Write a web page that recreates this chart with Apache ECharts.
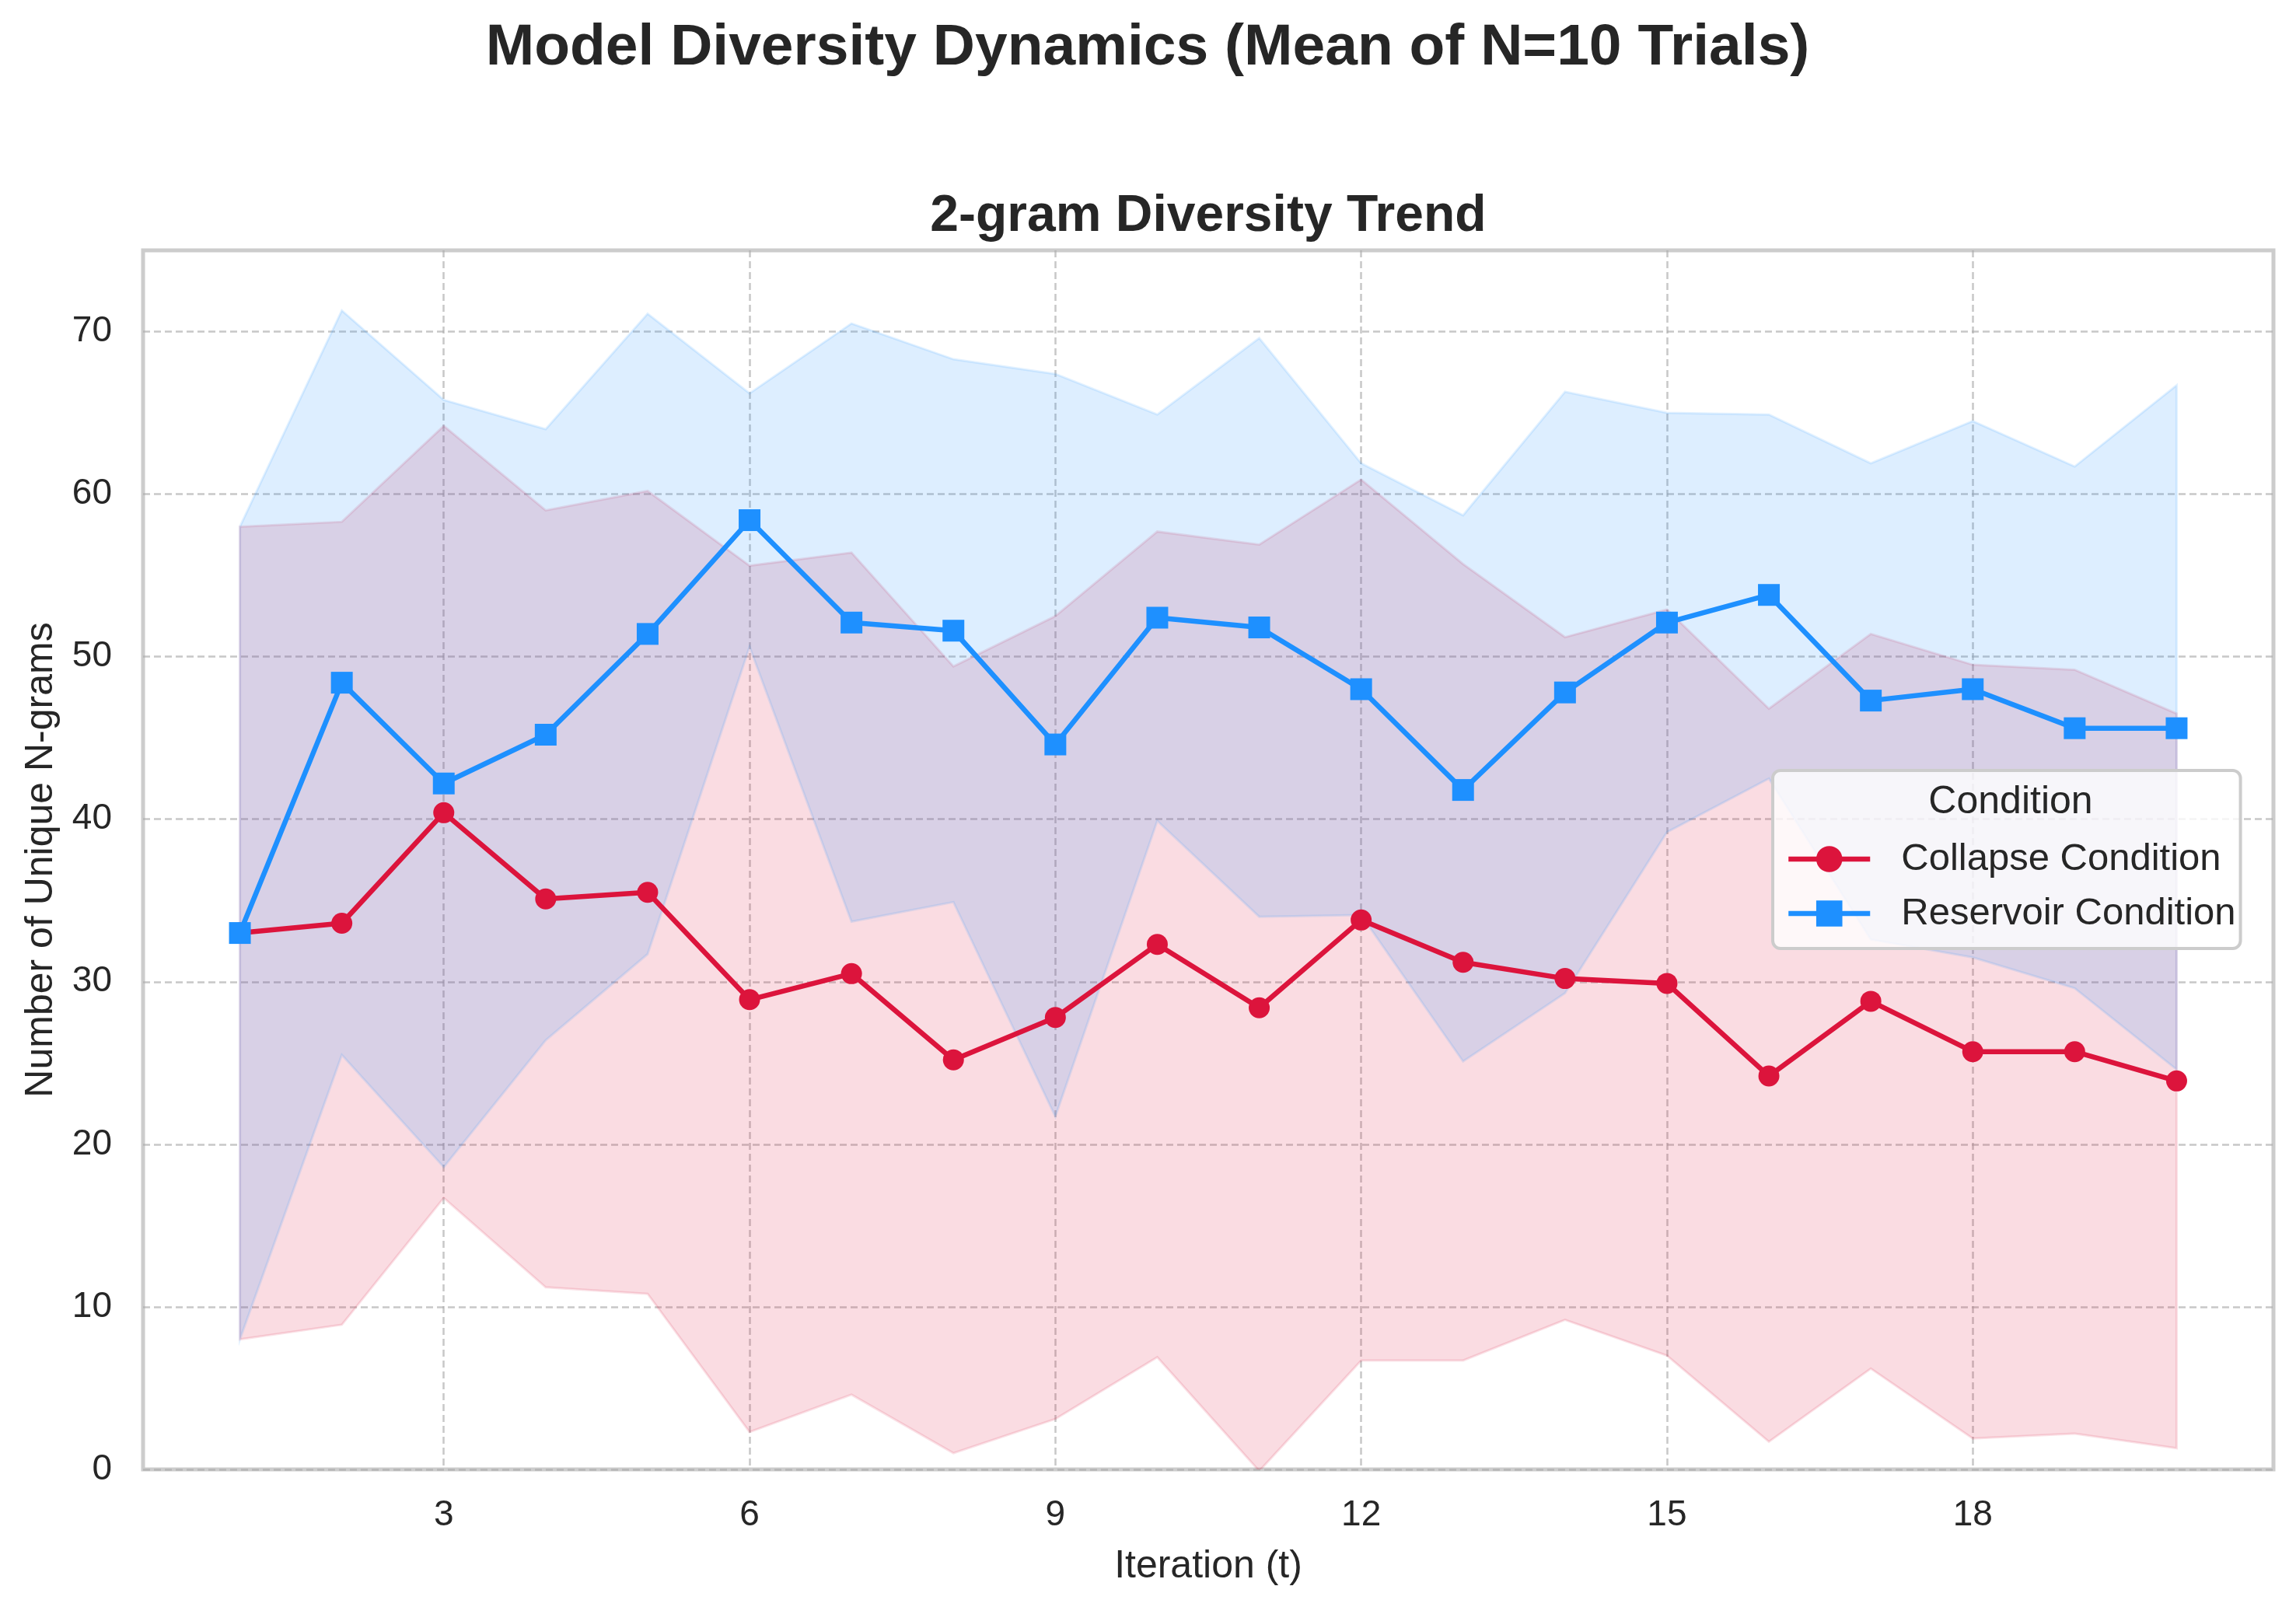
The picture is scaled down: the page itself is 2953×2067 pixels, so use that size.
<!DOCTYPE html>
<html>
<head>
<meta charset="utf-8">
<script src="https://cdn.jsdelivr.net/npm/echarts@6/dist/echarts.min.js"></script>
<style>
html,body{margin:0;padding:0;background:#fff;}
#chart{width:2953px;height:2067px;}
</style>
</head>
<body>
<div id="chart"></div>
<script>
// ---- data ----
const iterations = [1,2,3,4,5,6,7,8,9,10,11,12,13,14,15,16,17,18,19,20];
const collapseMean  = [33.0,33.6,40.4,35.1,35.5,28.9,30.5,25.2,27.8,32.3,28.4,33.8,31.2,30.2,29.9,24.2,28.8,25.7,25.7,23.9];
const collapseUpper = [58.0,58.3,64.2,59.0,60.2,55.6,56.4,49.4,52.5,57.7,56.9,60.9,55.7,51.2,52.9,46.8,51.4,49.5,49.2,46.5];
const collapseLower = [8.0,8.9,16.7,11.2,10.8,2.3,4.6,1.0,3.1,6.9,-0.1,6.7,6.7,9.2,7.0,1.7,6.2,1.9,2.2,1.3];
const reservoirMean  = [33.0,48.4,42.2,45.2,51.4,58.4,52.1,51.6,44.6,52.4,51.8,48.0,41.8,47.8,52.1,53.8,47.3,48.0,45.6,45.6];
const reservoirUpper = [58.0,71.3,65.8,64.0,71.1,66.2,70.5,68.3,67.4,64.9,69.6,61.9,58.7,66.3,65.0,64.9,61.9,64.5,61.7,66.7];
const reservoirLower = [8.0,25.5,18.6,26.4,31.7,50.6,33.7,34.9,21.7,39.9,34.0,34.1,25.1,29.3,39.2,42.5,32.6,31.5,29.6,24.6];
const xTicks = [3,6,9,12,15,18];
const yTicks = [0,10,20,30,40,50,60,70];
const seriesNames = ['Collapse Condition','Reservoir Condition'];

const FONT = "'Liberation Sans', Arial, sans-serif";
const TXT = '#262626';

function band(name, lower, upper, fill, stroke, z) {
  return {
    type: 'custom', name: name, silent: true, z: z, clip: true,
    data: [[iterations[0], lower[0]]],
    renderItem: function (params, api) {
      const pts = [];
      for (let i = 0; i < iterations.length; i++) pts.push(api.coord([iterations[i], upper[i]]));
      for (let i = iterations.length - 1; i >= 0; i--) pts.push(api.coord([iterations[i], lower[i]]));
      return { type: 'polygon', shape: { points: pts }, style: { fill: fill, stroke: stroke, lineWidth: 3 } };
    }
  };
}
function pairs(ys) { return iterations.map((t, i) => [t, ys[i]]); }

const chart = echarts.init(document.getElementById('chart'), null, { renderer: 'canvas', devicePixelRatio: 1 });
chart.setOption({
  backgroundColor: '#ffffff',
  animation: false,
  textStyle: { fontFamily: FONT },
  grid: { left: 184, right: 29, top: 322, bottom: 177, show: true, borderColor: '#cccccc', borderWidth: 5, backgroundColor: 'transparent' },
  xAxis: {
    type: 'value', min: 0.05, max: 20.95,
    name: 'Iteration (t)', nameLocation: 'middle', nameGap: 100,
    nameTextStyle: { fontSize: 50, color: TXT, fontFamily: FONT },
    axisLine: { show: false },
    axisTick: { show: false, customValues: xTicks },
    axisLabel: { customValues: xTicks, fontSize: 46, color: TXT, margin: 36, fontFamily: FONT },
    splitLine: { show: true, lineStyle: { color: 'rgba(170,170,170,0.65)', width: 2.5, type: [9, 5] } }
  },
  yAxis: {
    type: 'value', min: 0, max: 75,
    name: 'Number of Unique N-grams', nameLocation: 'middle', nameGap: 106, nameRotate: 90,
    nameTextStyle: { fontSize: 50, color: TXT, fontFamily: FONT },
    axisLine: { show: false },
    axisTick: { show: false, customValues: yTicks },
    axisLabel: { customValues: yTicks, fontSize: 46, color: TXT, margin: 40, fontFamily: FONT },
    splitLine: { show: true, lineStyle: { color: 'rgba(170,170,170,0.65)', width: 2.5, type: [9, 5] } }
  },
  legend: {
    data: seriesNames, orient: 'vertical', left: 2280, top: 991,
    padding: [89, 6, 20, 17], itemGap: 20, itemWidth: 105, itemHeight: 42,
    backgroundColor: 'rgba(255,255,255,0.8)', borderColor: '#cccccc', borderWidth: 4, borderRadius: 10,
    selectedMode: false,
    lineStyle: { width: 6.5 },
    textStyle: { fontSize: 49, color: TXT, fontFamily: FONT, lineHeight: 50, padding: [0, 0, 0, 35] }
  },
  graphic: [
    { type: 'text', x: 1476, y: 62, z: 100, style: { text: 'Model Diversity Dynamics (Mean of N=10 Trials)', fontSize: 75, fontWeight: 'bold', fontFamily: FONT, fill: TXT, align: 'center', verticalAlign: 'middle' } },
    { type: 'text', x: 1554, y: 279, z: 100, style: { text: '2-gram Diversity Trend', fontSize: 66, fontWeight: 'bold', fontFamily: FONT, fill: TXT, align: 'center', verticalAlign: 'middle' } },
    { type: 'text', x: 2586, y: 1032, z: 100, style: { text: 'Condition', fontSize: 50, fontFamily: FONT, fill: TXT, align: 'center', verticalAlign: 'middle' } }
  ],
  series: [
    band('collapse_band', collapseLower, collapseUpper, 'rgba(220,20,60,0.15)', 'rgba(220,20,60,0.13)', 1),
    band('reservoir_band', reservoirLower, reservoirUpper, 'rgba(30,144,255,0.15)', 'rgba(30,144,255,0.13)', 1),
    {
      type: 'line', name: seriesNames[0], data: pairs(collapseMean), z: 5,
      symbol: 'circle', symbolSize: 27, showSymbol: true,
      lineStyle: { color: '#DC143C', width: 6.5 }, itemStyle: { color: '#DC143C' }
    },
    {
      type: 'line', name: seriesNames[1], data: pairs(reservoirMean), z: 6,
      symbol: 'rect', symbolSize: 28, showSymbol: true,
      lineStyle: { color: '#1E90FF', width: 6.5 }, itemStyle: { color: '#1E90FF' }
    }
  ]
});
</script>
</body>
</html>
